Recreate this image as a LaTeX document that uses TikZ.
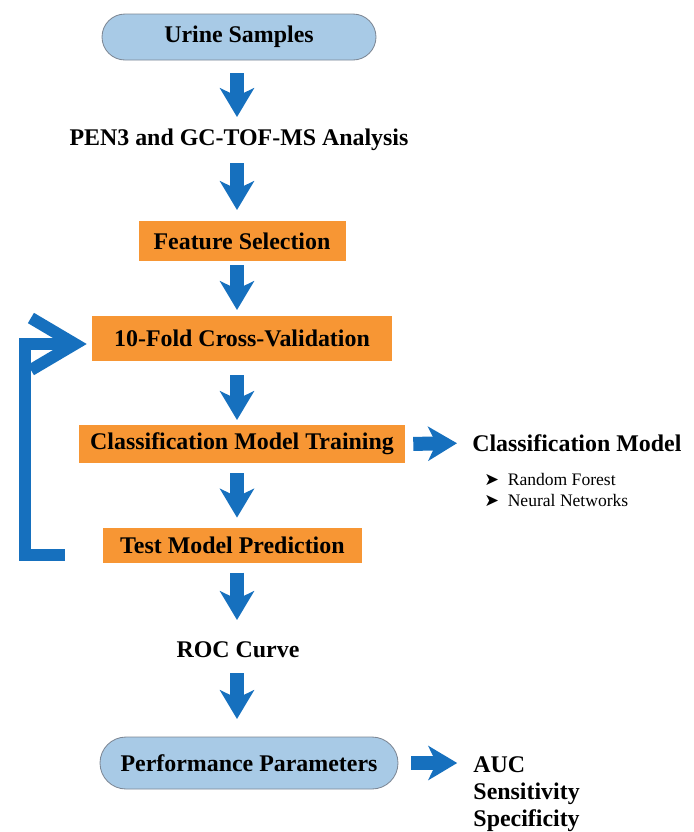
\documentclass[tikz,border=0pt]{standalone}
\usepackage{fontspec}
\setmainfont{Liberation Serif}
\newfontfamily\symfont{DejaVu Sans}
\usepackage{tikz}
\usetikzlibrary{arrows.meta, positioning, calc}
\definecolor{myblue}{RGB}{22,112,190}
\definecolor{myorange}{RGB}{247,150,52}
\definecolor{mypill}{RGB}{168,202,230}
\definecolor{mypillframe}{RGB}{125,135,148}
\newcommand{\headfont}{\fontsize{17}{19}\selectfont\bfseries}
\newcommand{\listfont}{\fontsize{12.5}{15}\selectfont}
\tikzset{
  procbox/.style={rectangle, fill=myorange, draw=none,
    inner sep=0pt, align=center, font=\headfont},
  termpill/.style={rectangle, draw=mypillframe, fill=mypill,
    inner sep=0pt, align=center, font=\headfont, line width=0.6pt},
  steptext/.style={inner sep=0pt, align=center, font=\headfont},
  flowarrow/.style={-{Stealth[length=0.72cm, width=0.85cm, inset=0.2cm]},
    line width=0.35cm, color=myblue},
  looparrow/.style={-{Straight Barb[length=1.1cm, width=1.3cm]},
    line width=0.3cm, color=myblue}
}

\begin{document}
\begin{tikzpicture}
  \useasboundingbox (0,0) rectangle (17.35,-20.8);
  \coordinate (spine) at (5.925,0);

  % Main flow
  \node[termpill, minimum width=6.85cm, minimum height=1.15cm, rounded corners=0.575cm]
    (urine) at (5.975,-0.925) {Urine Samples};
  \node[steptext] (pen) at (5.975,-3.5) {PEN3 and GC-TOF-MS Analysis};
  \node[procbox, minimum width=5.175cm, minimum height=1.0cm] (feat) at (6.05,-6.025) {Feature Selection};
  \node[procbox, minimum width=7.5cm, minimum height=1.125cm] (cross) at (6.05,-8.45) {10-Fold Cross-Validation};
  \node[procbox, minimum width=8.15cm, minimum height=0.95cm] (train) at (6.05,-11.1) {Classification Model Training};
  \node[procbox, minimum width=6.475cm, minimum height=0.875cm] (test) at (5.81,-13.64) {Test Model Prediction};
  \node[steptext] (roc) at (5.95,-16.25) {ROC Curve};
  \node[termpill, minimum width=7.45cm, minimum height=1.3cm, rounded corners=0.65cm]
    (perf) at (6.225,-19.075) {Performance Parameters};

  % Side outputs
  \node[steptext, anchor=west] (model) at (11.8,-11.075) {Classification Model};
  \node[inner sep=0pt, align=left, anchor=west, font=\listfont] (algos) at (12.1,-12.26)
    {{\symfont ➤}\enspace Random Forest\\ {\symfont ➤}\enspace Neural Networks};
  \node[steptext, align=left, anchor=west] (metrics) at (11.83,-19.85)
    {AUC\\ Sensitivity\\ Specificity};

  % Down arrows
  \draw[flowarrow, shorten <=0.9cm, shorten >=0.575cm] (urine.center -| spine) -- (pen.center -| spine);
  \draw[flowarrow, shorten <=0.575cm, shorten >=0.775cm] (pen.center -| spine) -- (feat.center -| spine);
  \draw[flowarrow, shorten <=0.6cm, shorten >=0.7cm] (feat.center -| spine) -- (cross.center -| spine);
  \draw[flowarrow, shorten <=0.925cm, shorten >=0.6cm] (cross.center -| spine) -- (train.center -| spine);
  \draw[flowarrow, shorten <=0.725cm, shorten >=0.7cm] (train.center -| spine) -- (test.center -| spine);
  \draw[flowarrow, shorten <=0.675cm, shorten >=0.75cm] (test.center -| spine) -- (roc.center -| spine);
  \draw[flowarrow, shorten <=0.575cm, shorten >=1.1cm] (roc.center -| spine) -- (perf.center -| spine);

  % Right arrows
  \draw[flowarrow, shorten <=0.2cm, shorten >=0.375cm] (train.east) -- (model.west);
  \draw[flowarrow, shorten <=0.325cm, shorten >=0.4cm] (perf.east) -- (perf.east -| metrics.west);

  % Feedback loop
  \draw[looparrow] ([xshift=-0.95cm, yshift=-0.24cm]test.west) -- ++(-1.0cm,0)
    |- ([xshift=-0.125cm, yshift=-0.15cm]cross.west);
\end{tikzpicture}
\end{document}
